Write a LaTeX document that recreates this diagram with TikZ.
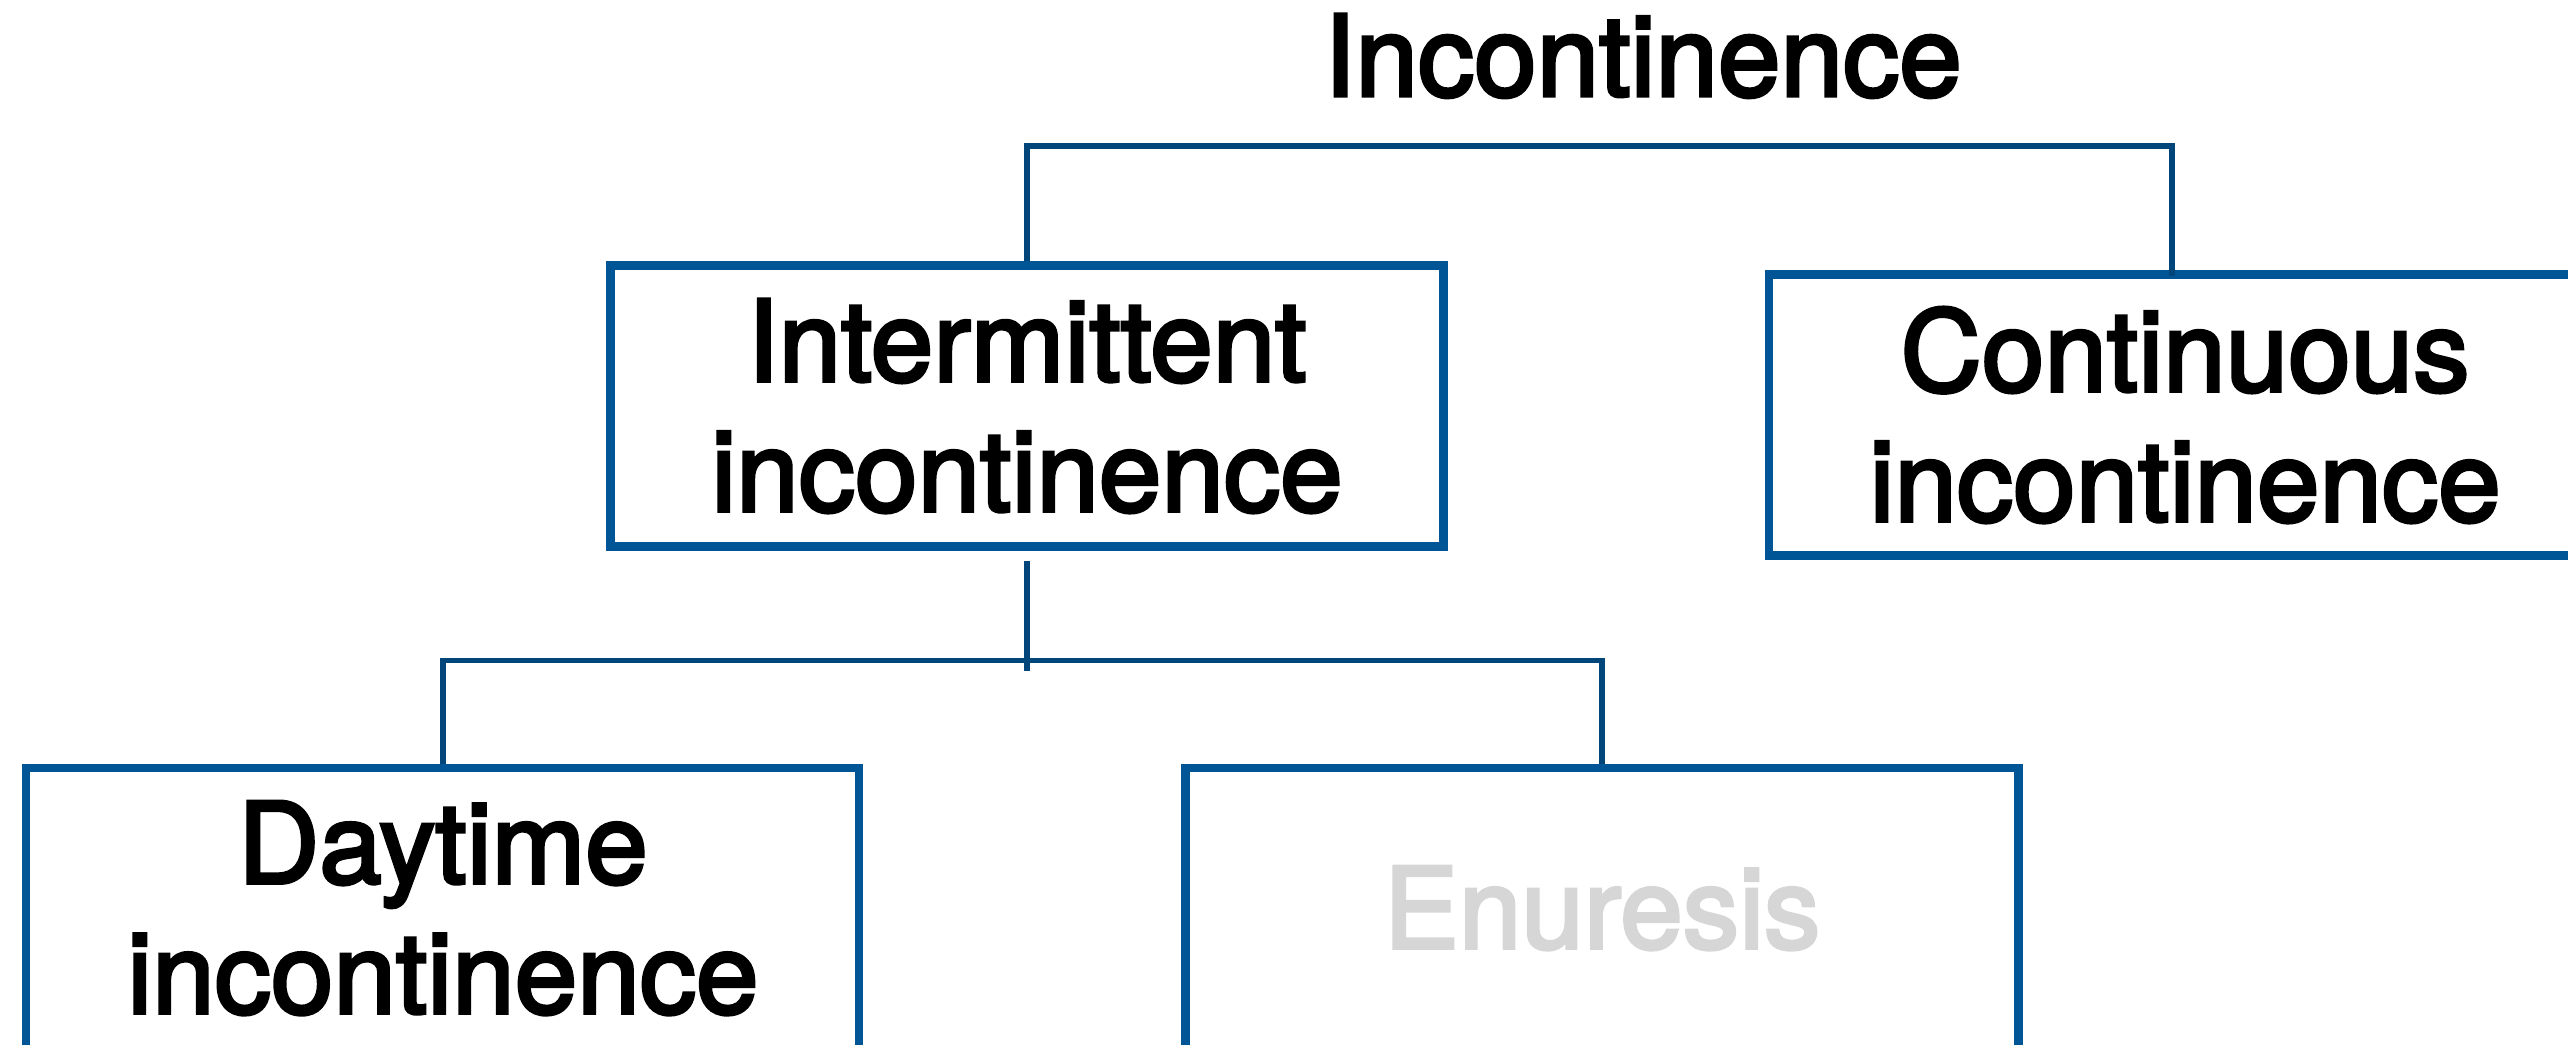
\documentclass[tikz,border=0pt]{standalone}
\usepackage{fontspec}
\setmainfont{TeX Gyre Heros}[FakeBold=3]
\usetikzlibrary{positioning}
\definecolor{boxblue}{HTML}{005596}
\definecolor{lineblue}{HTML}{00467A}
\definecolor{fadegray}{HTML}{D6D6D6}

\begin{document}
\begin{tikzpicture}[
every node/.style={
    font=\fontsize{32}{37}\selectfont,
    align=center,
    },
box/.style={
    draw=boxblue,
    line width=2.3pt,
    rectangle,
    minimum width=8.33cm,
    minimum height=2.81cm,
    },
link/.style={
    draw=lineblue,
    line width=1.5pt,
    },
]
\useasboundingbox (0,0) rectangle (25.68,-10.44);
\clip (0,0) rectangle (25.68,-10.44);
\node (top) [anchor=base] at (16.43,-0.96) {Incontinence};
\node (inter) [box] at (10.27,-4.06) {Intermittent\\incontinence};
\node (cont) [box, right=3.17cm of inter, yshift=-0.09cm] {Continuous\\incontinence};
\node (day) [box, below left=2.13cm and -2.57cm of inter] {Daytime\\incontinence};
\node (enu) [box, right=3.18cm of day, text=fadegray] {Enuresis};
\coordinate (ctop) at (21.72,-2.76);
\draw[link] (inter.north) -- ++(0,1.155) -| (ctop);
\draw[link] ([yshift=-0.1cm]inter.south) -- ++(0,-1.1);
\draw[link] (day.north) -- ++(0,1.03) -| (enu.north);
\end{tikzpicture}
\end{document}
